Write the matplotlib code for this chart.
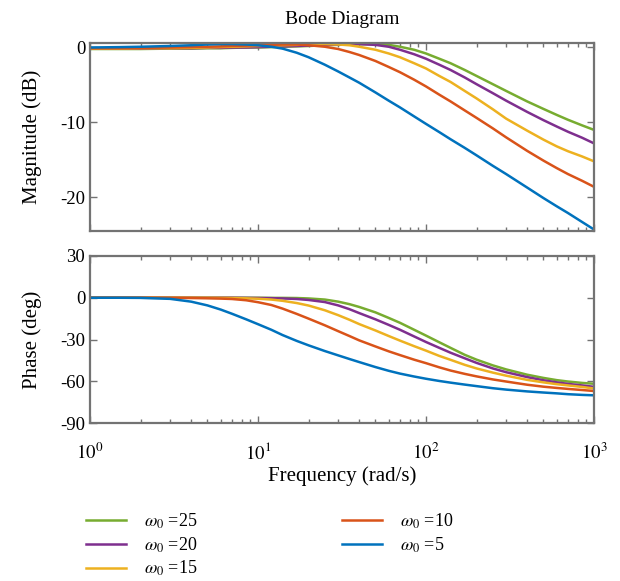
import matplotlib
matplotlib.use("Agg")
import matplotlib.pyplot as plt

plt.rcParams['font.family'] = ['Liberation Serif', 'DejaVu Serif']
plt.rcParams['mathtext.fontset'] = 'stix'
plt.rcParams['axes.unicode_minus'] = False

freq = [1, 1.5, 2, 3, 4, 5, 6, 7, 8.5, 10, 12, 14, 17, 20, 25, 30, 35, 40, 50, 60,
        70, 85, 100, 120, 140, 170, 200, 250, 300, 400, 500, 600, 700, 850, 1000]

labels = ['$\\omega_0$ =25', '$\\omega_0$ =20', '$\\omega_0$ =15', '$\\omega_0$ =10', '$\\omega_0$ =5']
colors = ['#77AC30', '#7E2F8E', '#EDB120', '#D95319', '#0072BD']

# magnitude (dB)
mag_25 = [-0.2, -0.2, -0.2, -0.15, -0.15, -0.1, -0.1, -0.05, 0.0, 0.0, 0.05, 0.1, 0.15, 0.2, 0.3, 0.35, 0.4, 0.45, 0.45, 0.35,
          0.1, -0.3, -0.8, -1.5, -2.1, -3.0, -3.8, -4.9, -5.8, -7.2, -8.2, -9.0, -9.65, -10.4, -11.0]
mag_20 = [-0.15, -0.15, -0.15, -0.1, -0.1, -0.05, -0.05, 0.0, 0.0, 0.05, 0.1, 0.15, 0.2, 0.25, 0.35, 0.4, 0.45, 0.45, 0.35, 0.1,
          -0.3, -0.9, -1.5, -2.3, -3.0, -4.0, -4.9, -6.1, -7.1, -8.6, -9.7, -10.55, -11.25, -12.05, -12.8]
mag_15 = [-0.15, -0.15, -0.1, -0.1, -0.05, 0.0, 0.05, 0.1, 0.15, 0.2, 0.25, 0.3, 0.35, 0.4, 0.45, 0.4, 0.3, 0.1, -0.3, -0.8,
          -1.3, -2.1, -2.8, -3.8, -4.6, -5.8, -6.8, -8.25, -9.5, -11.1, -12.3, -13.2, -13.85, -14.55, -15.2]
mag_10 = [-0.1, -0.1, -0.05, 0.0, 0.05, 0.1, 0.15, 0.2, 0.25, 0.3, 0.35, 0.4, 0.4, 0.3, 0.1, -0.2, -0.6, -1.0, -1.8, -2.6,
          -3.3, -4.3, -5.2, -6.3, -7.2, -8.4, -9.4, -10.8, -12.0, -13.8, -15.1, -16.1, -16.9, -17.8, -18.6]
mag_5 = [0.0, 0.05, 0.1, 0.2, 0.3, 0.4, 0.45, 0.45, 0.4, 0.3, 0.1, -0.15, -0.7, -1.3, -2.3, -3.2, -4.0, -4.7, -6.0, -7.1,
         -8.0, -9.2, -10.2, -11.3, -12.25, -13.4, -14.4, -15.8, -16.9, -18.7, -20.1, -21.2, -22.1, -23.3, -24.3]

# phase (deg)
ph_25 = [0, 0, 0, 0, 0, 0, 0, 0, 0, 0, -0.1, -0.1, -0.2, -0.5, -1.3, -2.8, -4.6, -6.6, -10.5, -14.5,
         -18.0, -23.0, -27.2, -32.0, -36.0, -41.0, -44.5, -48.6, -51.5, -55.3, -57.6, -59.2, -60.2, -61.2, -61.8]
ph_20 = [0, 0, 0, 0, 0, 0, 0, 0, -0.1, -0.2, -0.3, -0.5, -0.9, -1.6, -3.1, -5.5, -8.2, -11.0, -15.5, -19.5,
         -23.0, -27.8, -31.8, -36.0, -39.5, -43.5, -46.8, -50.8, -53.5, -57.0, -59.3, -60.8, -61.9, -63.0, -64.0]
ph_15 = [0, 0, 0, 0, 0, 0, -0.1, -0.2, -0.4, -0.7, -1.3, -2.2, -3.8, -5.6, -9.0, -12.5, -15.8, -18.9, -23.5, -27.5,
         -30.8, -34.8, -38.0, -41.8, -44.6, -48.2, -50.8, -53.8, -56.0, -59.0, -60.8, -62.1, -63.0, -64.1, -65.2]
ph_10 = [0, 0, 0, -0.1, -0.2, -0.4, -0.6, -0.9, -1.8, -3.2, -5.2, -7.8, -11.6, -15.0, -19.8, -24.0, -27.5, -30.6, -35.0, -38.5,
         -41.2, -44.5, -47.0, -50.0, -52.3, -54.7, -56.5, -58.7, -60.2, -62.5, -63.9, -64.8, -65.5, -66.3, -67.0]
ph_5 = [0, 0, -0.1, -0.8, -2.8, -5.5, -8.5, -11.5, -15.5, -19.0, -23.0, -26.8, -31.0, -34.2, -38.3, -41.4, -44.0, -46.2, -49.8, -52.5,
        -54.5, -56.6, -58.2, -59.8, -61.0, -62.4, -63.5, -65.0, -66.0, -67.3, -68.1, -68.7, -69.3, -69.8, -70.1]

mags = [mag_25, mag_20, mag_15, mag_10, mag_5]
phases = [ph_25, ph_20, ph_15, ph_10, ph_5]

fig = plt.figure(figsize=(6.2, 5.81), dpi=100)
ax1 = fig.add_axes([90/620, 1-231/581, 504/620, 188/581])
ax2 = fig.add_axes([90/620, 1-423/581, 504/620, 167/581])

tick_fs = 13.5
lab_fs = 15
frame_col = '#737373'

for m, p, c, lab in zip(mags, phases, colors, labels):
    ax1.semilogx(freq, m, color=c, lw=1.8, label=lab)
    ax2.semilogx(freq, p, color=c, lw=1.8)

for ax in (ax1, ax2):
    ax.set_xlim(1, 1000)
    for s in ax.spines.values():
        s.set_color(frame_col)
        s.set_linewidth(1.6)
    ax.tick_params(which='both', direction='in', top=True, right=True,
                   color=frame_col, labelsize=tick_fs, width=1.0)
    ax.tick_params(which='major', length=5)
    ax.tick_params(which='minor', length=3)

ax1.set_ylim(-24.5, 0.6)
ax1.set_yticks([-20, -10, 0])
ax1.tick_params(labelbottom=False)
ax1.set_ylabel('Magnitude (dB)', fontsize=lab_fs)
ax1.set_title('Bode Diagram', fontsize=14, pad=14)

ax2.set_ylim(-90, 30)
ax2.set_yticks([-90, -60, -30, 0, 30])
ax2.set_xticks([1, 10, 100, 1000])
ax2.set_xticklabels(['$10^0$', '$10^1$', '$10^2$', '$10^3$'])
ax2.tick_params(axis='x', which='major', pad=14)
ax2.set_ylabel('Phase (deg)', fontsize=lab_fs)
ax2.set_xlabel('Frequency (rad/s)', fontsize=lab_fs, labelpad=2)

ax1.yaxis.set_label_coords(-0.095, 0.5)
ax2.yaxis.set_label_coords(-0.095, 0.5)

h, l = ax1.get_legend_handles_labels()
fig.legend(h, l, ncol=2, loc='upper left', bbox_to_anchor=(70/620, 1-495/581),
           frameon=False, fontsize=13, handlelength=2.2, handletextpad=1.0,
           columnspacing=8.0, labelspacing=0.25)

fig.savefig('out.png', dpi=100)
